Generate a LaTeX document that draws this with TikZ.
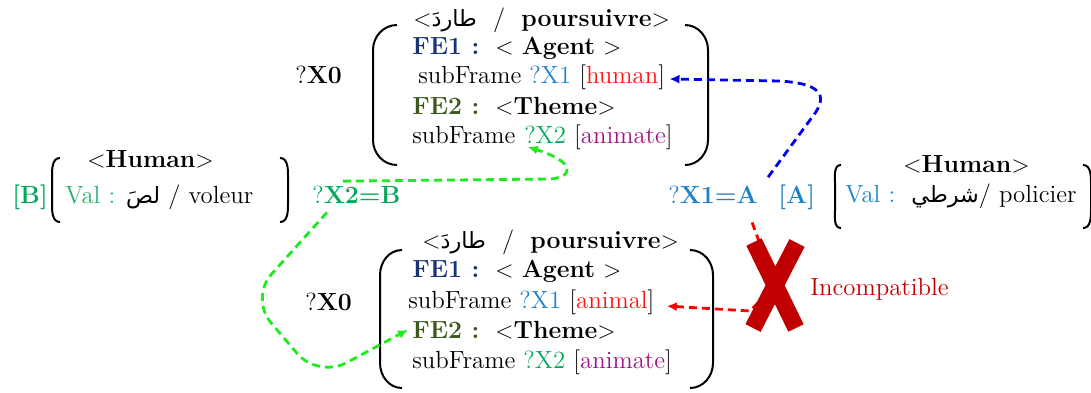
\documentclass[tikz,border=0pt]{standalone}
\usepackage{fontspec}
\newfontfamily\arabicfont[Script=Arabic,Scale=0.9]{DejaVu Sans}
\TeXXeTstate=1
\usetikzlibrary{arrows.meta,calc}
\definecolor{feblue}{RGB}{25,50,120}
\definecolor{fegreen}{RGB}{60,90,30}
\definecolor{varblue}{RGB}{30,130,200}
\definecolor{vargreen}{RGB}{0,170,90}
\definecolor{valgreen}{RGB}{40,175,110}
\definecolor{semred}{RGB}{255,20,20}
\definecolor{sempurple}{RGB}{160,20,130}
\definecolor{crossred}{RGB}{192,0,0}
\definecolor{lnkblue}{RGB}{0,0,240}
\definecolor{lnkgreen}{RGB}{30,235,30}
\definecolor{lnkred}{RGB}{250,0,0}
\newcommand{\artxt}[1]{{\arabicfont\beginR #1\endR}}
\begin{document}
\begin{tikzpicture}[x=0.5pt,y=-0.5pt,
  txt/.style={anchor=base west, inner sep=0pt, font=\fontsize{12.4}{15}\selectfont},
  brk/.style={line width=1pt},
  lnk/.style={dash pattern=on 4pt off 2.5pt, line width=1.4pt, -{Latex[length=5pt,width=4.5pt]}}]
\useasboundingbox (0,0) rectangle (1091,392);

% upper frame
\node[txt] (h1) at (413,26) {$<$\artxt{طاردَ}\ \ /\ \ \textbf{poursuivre}$>$};
\node[txt] (a1) at (412,54) {\textcolor{feblue}{\textbf{FE1 :}}\ \ $<$ \textbf{Agent} $>$};
\node[txt] (s1) at (418,83) {subFrame \textcolor{varblue}{?X1} [\textcolor{semred}{human}]};
\node[txt] (t1) at (412,114) {\textcolor{fegreen}{\textbf{FE2 :}}\ \ $<$\textbf{Theme}$>$};
\node[txt] (r1) at (412,143) {subFrame};
\node[txt] (v1) at (r1.base east) {\ \textcolor{vargreen}{?X2} [\textcolor{sempurple}{animate}]};
\node[txt] (x01) at (295,83) {?\textbf{X0}};
\draw[brk] (397,25) to[out=180,in=90] (373,50) -- (373,140) to[out=-90,in=180] (397,165);
\draw[brk] (685,25) to[out=0,in=90] (708,50) -- (708,140) to[out=-90,in=0] (685,165);

% lower frame
\node[txt] (h2) at (422,248) {$<$\artxt{طاردَ}\ \ /\ \ \textbf{poursuivre}$>$};
\node[txt] (a2) at (412,277) {\textcolor{feblue}{\textbf{FE1 :}}\ \ $<$ \textbf{Agent} $>$};
\node[txt] (s2) at (408,308) {subFrame \textcolor{varblue}{?X1} [\textcolor{semred}{animal}]};
\node[txt] (t2) at (412,338) {\textcolor{fegreen}{\textbf{FE2 :}}\ \ $<$\textbf{Theme}$>$};
\node[txt] (r2) at (412,368) {subFrame \textcolor{vargreen}{?X2} [\textcolor{sempurple}{animate}]};
\node[txt] (x02) at (305,310) {?\textbf{X0}};
\draw[brk] (402,250) to[out=180,in=90] (380,275) -- (380,363) to[out=-90,in=180] (402,388);
\draw[brk] (690,250) to[out=0,in=90] (713,275) -- (713,363) to[out=-90,in=0] (690,388);

% left value
\node[txt, text=vargreen] (bl) at (12,203) {\textbf{[B]}};
\node[txt] (hl) at (87,167) {$<$\textbf{Human}$>$};
\node[txt] (vl) at (65,203) {\textcolor{valgreen}{Val :} \artxt{لصَ} / voleur};
\draw[brk] (60,158) to[out=180,in=90] (52,176) -- (52,204) to[out=-90,in=180] (60,222);
\draw[brk] (280,158) to[out=0,in=90] (288,176) -- (288,204) to[out=-90,in=0] (280,222);
\node[txt, text=vargreen] (x2b) at (312,203) {?\textbf{X2=B}};

% right value
\node[txt, text=varblue] (x1a) at (668,203) {?\textbf{X1=A}};
\node[txt, text=varblue] (ba) at (778,203) {\textbf{[A]}};
\node[txt] (hr) at (903,172) {$<$\textbf{Human}$>$};
\node[txt] (vr) at (845,202) {\textcolor{varblue}{Val :}\ \ \artxt{شرطي}/ policier};
\draw[brk] (841,165) to[out=180,in=90] (835,183) -- (835,210) to[out=-90,in=180] (841,228);
\draw[brk] (1083,165) to[out=0,in=90] (1091,183) -- (1091,210) to[out=-90,in=0] (1083,228);

% links
\draw[lnk, lnkblue] ($(x1a.north east)+(10,-8)$) -- (810,120)
  .. controls (828,98) and (826,84) .. (780,81) -- ($(s1.base east)+(4,-4)$);
\draw[lnk, lnkgreen] ($(x2b.north west)+(31,-4)$) -- (550,179)
  .. controls (574,177) and (576,162) .. ($(r1.base east)+(12,4)$);
\draw[lnk, lnkgreen, rounded corners=16pt] ($(x2b.south west)+(15,9)$) -- (250,298) -- (318,378) -- ($(t2.west)+(-4,0)$);
\draw[lnk, lnkred] ($(x1a.south east)+(-6,19)$) -- (775,285) -- (750,311) -- ($(s2.base east)+(12,-2)$);

% incompatibility mark
\draw[crossred, line width=8.5pt] (754,242) -- (796,328) (797,243) -- (753,328);
\node[txt, text=crossred] (inc) at (810,295) {Incompatible};
\end{tikzpicture}
\end{document}
